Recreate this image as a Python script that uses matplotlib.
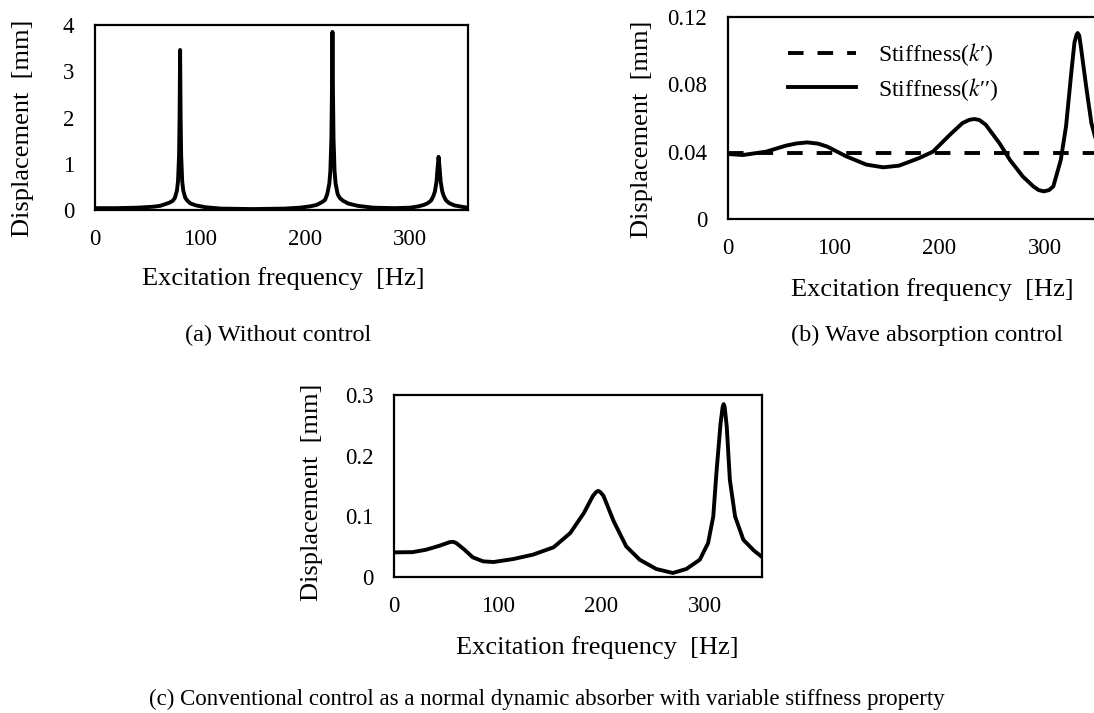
import matplotlib
matplotlib.use("Agg")
import matplotlib.pyplot as plt

plt.rcParams['font.family'] = ['Liberation Serif', 'DejaVu Serif']
plt.rcParams['mathtext.fontset'] = 'stix'

# ---------------- data ----------------
freq_a = [0, 20, 40, 55, 62, 66, 71, 74, 76, 78, 79, 80, 80.5, 81, 81.5, 82, 83, 84, 86, 88,
          91, 96, 105, 120, 150, 180, 195, 205, 211, 216, 219, 221, 223, 224, 225, 225.5, 226,
          226.5, 227, 228, 229, 231, 233, 236, 241, 250, 265, 285, 300, 308, 313, 316, 318,
          320, 322, 323.5, 325, 326, 327, 328, 329, 330.5, 332, 334, 337, 342, 349, 355]
disp_a = [0.04, 0.04, 0.05, 0.07, 0.09, 0.12, 0.16, 0.2, 0.26, 0.42, 0.62, 1.18, 2.0, 3.46, 2.0,
          1.18, 0.62, 0.42, 0.26, 0.2, 0.14, 0.1, 0.06, 0.03, 0.02, 0.03, 0.05, 0.08, 0.11, 0.17,
          0.22, 0.34, 0.57, 0.84, 1.56, 2.55, 3.85, 2.55, 1.56, 0.84, 0.57, 0.34, 0.26, 0.2, 0.14,
          0.09, 0.05, 0.04, 0.05, 0.08, 0.11, 0.14, 0.17, 0.21, 0.3, 0.4, 0.61, 0.9, 1.15, 0.9,
          0.61, 0.4, 0.3, 0.21, 0.15, 0.1, 0.07, 0.05]

freq_b = [0, 14, 36, 55, 65, 75, 85, 94, 112, 131, 147, 162, 181, 194, 210, 222, 228, 233, 238,
          244, 257, 267, 279, 289, 294, 299, 304, 308, 315, 320, 325, 328, 330, 331, 332.5, 334,
          339, 344, 350, 355]
disp_b_k1 = [0.039, 0.039]          # Stiffness(k')
freq_b_k1 = [0, 355]
disp_b_k2 = [0.0386, 0.038, 0.040, 0.0436, 0.0449, 0.0455, 0.0448, 0.043, 0.0372, 0.0323,
             0.0307, 0.0317, 0.0362, 0.040, 0.050, 0.057, 0.0588, 0.0594, 0.0588, 0.056, 0.045,
             0.035, 0.0253, 0.0194, 0.0172, 0.0164, 0.0172, 0.0194, 0.035, 0.055, 0.087, 0.105,
             0.1095, 0.1105, 0.109, 0.1026, 0.079, 0.057, 0.043, 0.037]

freq_c = [0, 18, 31, 44, 54, 57, 60, 68, 76, 86, 96, 115, 134, 154, 170, 183, 192, 195, 197,
          199, 202, 212, 224, 237, 253, 269, 282, 295, 303, 308, 311, 315, 317, 318, 319, 321,
          324, 329, 337, 347, 355]
disp_c = [0.0406, 0.041, 0.045, 0.0516, 0.0576, 0.058, 0.056, 0.045, 0.0324, 0.0258, 0.0247,
          0.0296, 0.0368, 0.049, 0.0724, 0.105, 0.134, 0.140, 0.142, 0.140, 0.134, 0.0916,
          0.0505, 0.0285, 0.0132, 0.0066, 0.0132, 0.0285, 0.056, 0.10, 0.171, 0.253, 0.280,
          0.285, 0.280, 0.248, 0.16, 0.10, 0.0614, 0.0439, 0.033]

xticks = [0, 100, 200, 300]
xticklabels = ["0", "100", "200", "300"]
yticks_a = [0, 1, 2, 3, 4]
yticklabels_a = ["0", "1", "2", "3", "4"]
yticks_b = [0, 0.04, 0.08, 0.12]
yticklabels_b = ["0", "0.04", "0.08", "0.12"]
yticks_c = [0, 0.1, 0.2, 0.3]
yticklabels_c = ["0", "0.1", "0.2", "0.3"]

xlabel = "Excitation frequency  [Hz]"
ylabel = "Displacement  [mm]"
captions = ["(a) Without control", "(b) Wave absorption control",
            "(c) Conventional control as a normal dynamic absorber with variable stiffness property"]
legend_labels = ["Stiffness($k$\u2032)", "Stiffness($k$\u2032\u2032)"]

# ---------------- layout ----------------
W, H = 1094, 713
fig = plt.figure(figsize=(W / 100, H / 100), dpi=100)


def add_ax(left, top, right, bottom):
    return fig.add_axes([left / W, 1 - bottom / H, (right - left) / W, (bottom - top) / H])


LW = 2.8
TICK_FS = 16.5
LABEL_FS = 19


def style(ax, yticks, yticklabels, ylim, xl_pos, yl_pos):
    ax.set_xlim(0, 355)
    ax.set_ylim(*ylim)
    ax.set_xticks(xticks)
    ax.set_xticklabels(xticklabels, fontsize=TICK_FS)
    ax.set_yticks(yticks)
    ax.set_yticklabels(yticklabels, fontsize=TICK_FS)
    ax.tick_params(axis='both', length=0)
    ax.tick_params(axis='x', pad=14)
    ax.tick_params(axis='y', pad=15)
    for s in ax.spines.values():
        s.set_linewidth(1.6)
        s.set_color('black')
    ax.set_xlabel(xlabel, fontsize=LABEL_FS, va='center')
    ax.xaxis.set_label_coords(*xl_pos)
    ax.set_ylabel(ylabel, fontsize=LABEL_FS, va='center')
    ax.yaxis.set_label_coords(*yl_pos)


# (a)
ax_a = add_ax(95, 25, 468, 210)
ax_a.plot(freq_a, disp_a, color='black', lw=LW, solid_joinstyle='round')
style(ax_a, yticks_a, yticklabels_a, (0, 4), (0.504, -0.368), (-0.193, 0.44))

# (b)
ax_b = add_ax(728, 17, 1103, 219)
ax_b.plot(freq_b_k1, disp_b_k1, color='black', lw=LW, dashes=(4.0, 3.6), label=legend_labels[0])
ax_b.plot(freq_b, disp_b_k2, color='black', lw=LW, solid_joinstyle='round', label=legend_labels[1])
style(ax_b, yticks_b, yticklabels_b, (0, 0.12), (0.544, -0.351), (-0.229, 0.446))
ax_b.legend(loc='upper left', bbox_to_anchor=(0.16, 0.88), frameon=False, fontsize=17,
            handlelength=2.9, handletextpad=0.9, labelspacing=0.32, borderpad=0,
            borderaxespad=0)

# (c)
ax_c = add_ax(394, 395, 762, 577)
ax_c.plot(freq_c, disp_c, color='black', lw=LW, solid_joinstyle='round')
style(ax_c, yticks_c, yticklabels_c, (0, 0.3), (0.552, -0.39), (-0.223, 0.467))

# captions
fig.text(278 / W, 1 - 335 / H, captions[0], ha='center', va='center', fontsize=17.5)
fig.text(927 / W, 1 - 335 / H, captions[1], ha='center', va='center', fontsize=17.5)
fig.text(547 / W, 1 - 699 / H, captions[2], ha='center', va='center', fontsize=16.5)

fig.savefig("out.png", dpi=100)
